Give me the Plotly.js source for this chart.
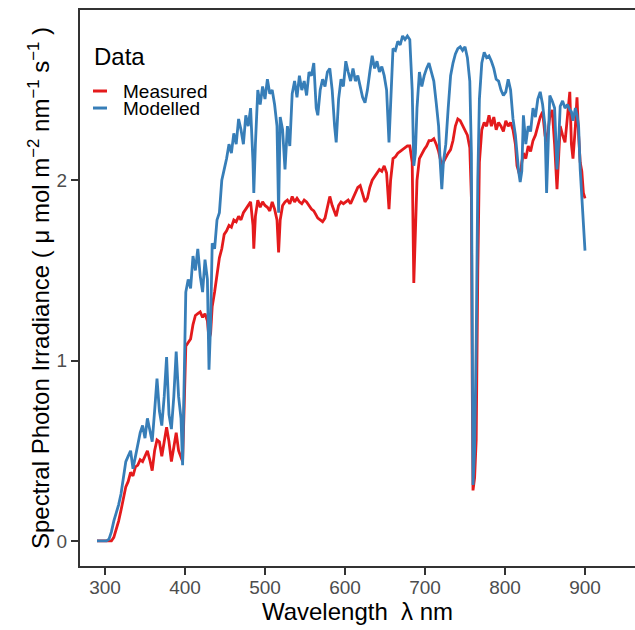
<!DOCTYPE html>
<html>
<head>
<meta charset="utf-8">
<script src="https://cdn.plot.ly/plotly-3.0.1.min.js"></script>
<style>html,body{margin:0;padding:0;overflow:hidden;background:#fff}</style>
</head>
<body>
<div id="chart" style="width:635px;height:630px"></div>
<script>
// Wavelength (nm)
const wavelength = [290,293,296,299,302,305,308,311,314,317,320,323,326,329,332,335,338,341,344,347,350,353,356,359,362,365,368,371,374,377,380,383,386,389,392,395,397,399,401,404,407,410,413,416,419,422,425,428,430,432,434,437,440,443,446,449,452,455,458,461,464,467,470,473,476,479,482,485,486,488,491,494,497,500,503,506,509,512,515,517,519,522,525,528,531,534,537,540,543,546,549,552,555,558,561,564,566,569,572,575,578,581,584,587,589,592,595,598,601,604,607,610,613,616,619,622,625,628,631,634,637,640,643,646,649,652,655,657,660,663,666,669,672,675,678,681,684,686,688,690,693,696,699,702,705,708,711,714,717,719,721,723,726,729,732,735,738,741,744,747,750,753,756,758,759,760,762,764,766,768,771,774,777,780,783,786,789,792,795,798,801,804,807,810,813,815,817,819,821,823,826,829,832,835,838,841,844,847,850,852,854,856,859,862,865,867,869,872,875,878,881,883,885,888,890,892,894,896,898,900];

// Measured spectral photon irradiance
const measured = [0,0,0,0,0,0,0,0.02,0.06,0.11,0.17,0.24,0.3,0.33,0.38,0.36,0.41,0.42,0.45,0.44,0.47,0.5,0.45,0.39,0.5,0.56,0.55,0.47,0.55,0.63,0.55,0.44,0.52,0.6,0.5,0.46,0.44,0.75,1.08,1.1,1.12,1.2,1.25,1.26,1.27,1.24,1.26,1.22,1.12,1.15,1.3,1.38,1.48,1.57,1.62,1.7,1.72,1.75,1.74,1.78,1.77,1.8,1.78,1.82,1.84,1.86,1.88,1.75,1.62,1.8,1.89,1.85,1.88,1.86,1.85,1.83,1.88,1.84,1.78,1.6,1.78,1.86,1.88,1.89,1.87,1.91,1.88,1.9,1.88,1.87,1.89,1.88,1.86,1.84,1.83,1.8,1.79,1.78,1.77,1.79,1.85,1.91,1.86,1.83,1.8,1.86,1.88,1.87,1.88,1.89,1.87,1.9,1.93,1.96,1.97,1.92,1.88,1.9,1.96,2.0,2.02,2.04,2.06,2.05,2.08,2.04,1.84,2.0,2.12,2.13,2.15,2.16,2.17,2.18,2.19,2.19,2.1,1.43,1.7,2.0,2.12,2.15,2.17,2.19,2.22,2.22,2.23,2.2,2.16,2.12,2.08,2.1,2.13,2.15,2.17,2.22,2.3,2.34,2.33,2.3,2.28,2.25,2.18,1.9,0.9,0.28,0.35,0.56,1.5,2.1,2.28,2.32,2.3,2.36,2.3,2.35,2.28,2.32,2.3,2.27,2.33,2.3,2.32,2.28,2.2,2.08,2.05,2.02,2.1,2.15,2.12,2.19,2.16,2.22,2.25,2.3,2.35,2.38,2.25,2.21,2.3,2.35,2.39,2.2,1.95,2.15,2.3,2.25,2.21,2.35,2.49,2.2,2.12,2.3,2.46,2.25,2.1,2.05,1.93,1.9];

// Modelled spectral photon irradiance
const modelled = [0,0,0,0,0,0.01,0.05,0.11,0.15,0.2,0.26,0.35,0.44,0.47,0.5,0.4,0.47,0.55,0.6,0.64,0.57,0.68,0.62,0.55,0.72,0.9,0.72,0.64,0.8,1.02,0.7,0.62,0.8,1.05,0.8,0.68,0.42,0.9,1.38,1.45,1.4,1.58,1.5,1.62,1.47,1.38,1.56,1.45,0.95,1.2,1.65,1.62,1.78,1.82,2.0,2.06,2.12,2.2,2.15,2.26,2.2,2.34,2.28,2.2,2.36,2.3,2.4,2.1,1.93,2.2,2.5,2.42,2.52,2.45,2.56,2.48,2.5,2.42,2.3,1.82,2.35,2.28,2.06,2.3,2.19,2.48,2.55,2.46,2.58,2.5,2.55,2.47,2.6,2.58,2.65,2.4,2.36,2.5,2.56,2.52,2.6,2.62,2.5,2.3,2.21,2.45,2.56,2.52,2.66,2.6,2.55,2.62,2.55,2.58,2.52,2.46,2.43,2.5,2.6,2.69,2.62,2.66,2.6,2.63,2.58,2.5,2.21,2.4,2.73,2.72,2.77,2.75,2.8,2.78,2.8,2.78,2.5,2.08,2.15,2.4,2.6,2.52,2.58,2.62,2.65,2.6,2.55,2.43,2.3,2.1,1.95,2.1,2.2,2.4,2.58,2.65,2.7,2.73,2.74,2.72,2.74,2.68,2.55,2.15,0.9,0.31,0.5,1.1,2.0,2.45,2.65,2.71,2.68,2.69,2.66,2.62,2.56,2.55,2.5,2.47,2.49,2.56,2.5,2.34,2.25,2.13,2.05,1.99,2.05,2.36,2.2,2.3,2.27,2.4,2.35,2.45,2.49,2.42,2.3,1.93,2.2,2.47,2.44,2.4,2.06,2.2,2.41,2.44,2.4,2.42,2.39,2.38,2.33,2.4,2.36,2.3,2.06,1.9,1.71,1.61];

const seriesNames = ['Measured', 'Modelled'];
const seriesColors = ['#E41A1C', '#377EB8'];
const xTicks = [300, 400, 500, 600, 700, 800, 900];
const yTicks = [0, 1, 2];

const FONT = 'Arial, "Liberation Sans", Helvetica, sans-serif';

const traces = [measured, modelled].map((vals, i) => ({
  type: 'scatter', mode: 'lines',
  x: wavelength, y: vals, name: seriesNames[i],
  line: {color: seriesColors[i], width: 2.8},
  showlegend: false, hoverinfo: 'skip'
}));

const layout = {
  width: 635, height: 630,
  margin: {l: 80, r: 0, t: 10, b: 64},
  paper_bgcolor: '#fff', plot_bgcolor: '#fff',
  font: {family: FONT, color: '#000'},
  showlegend: false,
  xaxis: {
    range: [268.75, 962.5], tickvals: xTicks, ticktext: xTicks.map(String),
    showgrid: false, zeroline: false,
    showline: true, linecolor: '#333', linewidth: 2, mirror: true,
    ticks: 'outside', ticklen: 7, tickwidth: 2, tickcolor: '#333',
    ticklabelstandoff: -4,
    tickfont: {family: FONT, size: 19, color: '#4d4d4d'},
    title: {text: 'Wavelength  λ nm', font: {family: FONT, size: 24, color: '#000'}, standoff: 4}
  },
  yaxis: {
    range: [-0.139, 2.944], tickvals: yTicks, ticktext: yTicks.map(String),
    showgrid: false, zeroline: false,
    showline: true, linecolor: '#333', linewidth: 2,
    ticks: 'outside', ticklen: 7, tickwidth: 2, tickcolor: '#333',
    tickfont: {family: FONT, size: 19, color: '#4d4d4d'},
    title: {text: 'Spectral Photon Irradiance ( μ mol m<sup>−2</sup> nm<sup>−1</sup> s<sup>−1</sup> )', font: {family: FONT, size: 24, color: '#000'}, standoff: 0}
  },
  annotations: [
    {xref: 'paper', yref: 'paper', x: 0.0234, y: 0.9155, xanchor: 'left', yanchor: 'middle', showarrow: false, text: 'Data', font: {family: FONT, size: 24, color: '#000'}, borderpad: 0},
    {xref: 'paper', yref: 'paper', x: 0.0757, y: 0.8543, xanchor: 'left', yanchor: 'middle', showarrow: false, text: seriesNames[0], font: {family: FONT, size: 19, color: '#000'}, borderpad: 0},
    {xref: 'paper', yref: 'paper', x: 0.0757, y: 0.8237, xanchor: 'left', yanchor: 'middle', showarrow: false, text: seriesNames[1], font: {family: FONT, size: 19, color: '#000'}, borderpad: 0}
  ],
  shapes: [
    {type: 'line', xref: 'paper', yref: 'paper', x0: 0.0234, x1: 0.0486, y0: 0.8543, y1: 0.8543, line: {color: seriesColors[0], width: 3}},
    {type: 'line', xref: 'paper', yref: 'paper', x0: 0.0234, x1: 0.0486, y0: 0.8237, y1: 0.8237, line: {color: seriesColors[1], width: 3}}
  ]
};

Plotly.newPlot('chart', traces, layout, {displayModeBar: false, staticPlot: true});
</script>
</body>
</html>
